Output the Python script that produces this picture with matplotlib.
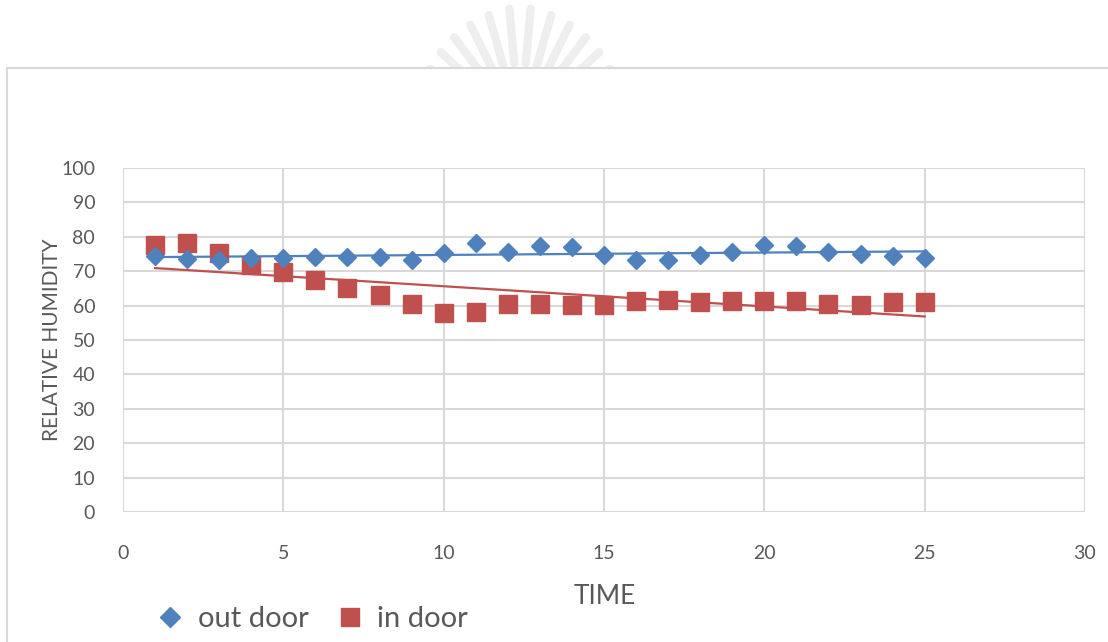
import numpy as np
import matplotlib
matplotlib.use("Agg")
import matplotlib.pyplot as plt
from matplotlib.lines import Line2D
from matplotlib.patches import Rectangle

# Hourly readings
time = list(range(1, 26))
out_door = [74.5, 73.5, 73.3, 73.9, 73.7, 74.2, 74.0, 74.0, 73.4, 75.2,
            78.1, 75.5, 77.3, 77.1, 74.7, 73.3, 73.4, 74.7, 75.7, 77.6,
            77.3, 75.7, 74.9, 74.4, 73.9]
in_door = [77.6, 78.1, 75.2, 71.8, 69.9, 67.4, 65.0, 63.1, 60.5, 57.9,
           58.2, 60.5, 60.4, 60.2, 60.2, 61.3, 61.6, 61.1, 61.3, 61.4,
           61.2, 60.5, 60.2, 61.1, 61.1]
x_ticks = [0, 5, 10, 15, 20, 25, 30]
y_ticks = list(range(0, 101, 10))

BLUE = "#4F81BD"
RED = "#C0504D"
GRID = "#D9D9D9"
TEXT = "#595959"
FONT = ["Lato", "DejaVu Sans"]

plt.rcParams["font.family"] = FONT

W, H = 1108, 642
fig = plt.figure(figsize=(W / 100, H / 100), dpi=100)
fig.patch.set_facecolor("white")

# Faint emblem above the chart frame
emb = fig.add_axes([0, 0, 1, 1], zorder=0)
emb.set_xlim(0, W)
emb.set_ylim(H, 0)
emb.axis("off")
cx, cy = 520, 125
for ang in np.linspace(148, 32, 12):
    a = np.radians(ang)
    r0, r1 = 62, 118 - 14 * abs(np.cos(a))
    emb.plot([cx + r0 * np.cos(a), cx + r1 * np.cos(a)],
             [cy - r0 * np.sin(a), cy - r1 * np.sin(a)],
             color="#EEEEEE", lw=6, solid_capstyle="round")
emb.add_patch(Rectangle((0, 68), 7, H, color="white", zorder=3))
emb.add_patch(Rectangle((7, 68), W, H, facecolor="white",
                        edgecolor=GRID, lw=1.5, zorder=3))

ax = fig.add_axes([123 / W, 1 - 512 / H, 962 / W, 344 / H], zorder=2)
ax.set_facecolor("none")
ax.set_xlim(0, 30)
ax.set_ylim(0, 100)
ax.set_xticks(x_ticks)
ax.set_yticks(y_ticks)
ax.grid(True, color=GRID, lw=1.5)
ax.set_axisbelow(True)
for s in ax.spines.values():
    s.set_visible(False)
ax.tick_params(length=0, labelsize=14, labelcolor=TEXT)
ax.tick_params(axis="y", pad=20)
ax.tick_params(axis="x", pad=24)

# Linear trend lines
t = np.array(time)
for series, color in ((out_door, BLUE), (in_door, RED)):
    k, b = np.polyfit(t, series, 1)
    ax.plot(t, k * t + b, color=color, lw=1.6, zorder=2)

ax.plot(time, in_door, ls="none", marker="s", ms=12.5, color=RED, zorder=3)
ax.plot(time, out_door, ls="none", marker="D", ms=9.5, color=BLUE, zorder=4)

fig.text(52 / W, 1 - 340 / H, "RELATIVE HUMIDITY", rotation=90,
         ha="center", va="center", fontsize=15, color=TEXT)
fig.text(605 / W, 1 - 597 / H, "TIME", ha="center", va="center",
         fontsize=19, color=TEXT)

handles = [Line2D([], [], ls="none", marker="D", ms=10, color=BLUE),
           Line2D([], [], ls="none", marker="s", ms=13, color=RED)]
fig.legend(handles, ["out door", "in door"], loc="center",
           bbox_to_anchor=(312 / W, 1 - 619 / H), ncol=2, frameon=False,
           fontsize=21, labelcolor=TEXT, handlelength=1.0,
           handletextpad=0.45, columnspacing=0.9, borderpad=0)

fig.savefig("out.png", dpi=100, facecolor="white")
